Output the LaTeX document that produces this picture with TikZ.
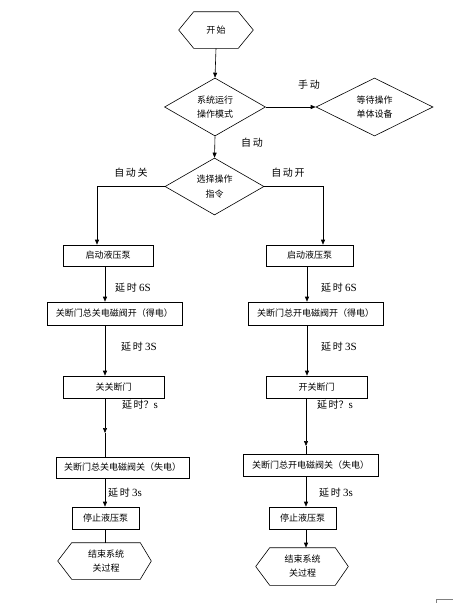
\documentclass[tikz,border=0pt]{standalone}
\usepackage{fontspec}
\setmainfont{Noto Sans CJK SC}
\newfontfamily\lat{Liberation Serif}
\usetikzlibrary{shapes.geometric,arrows.meta,calc}
\begin{document}
\begin{tikzpicture}[x=1pt,y=-1pt,
  line width=0.6pt,
  arr/.style={-{Triangle[length=5pt,width=4pt]}},
  boxnode/.style={draw,rectangle,inner sep=0pt,font=\fontsize{9}{10}\selectfont},
  dia/.style={draw,diamond,aspect=1.75,inner sep=0pt,align=center,font=\fontsize{9}{14.5}\selectfont},
  hexa/.style={rectangle,inner sep=0pt,align=center,minimum height=36pt,font=\fontsize{9}{14}\selectfont},
  lbl/.style={inner sep=0pt,font=\fontsize{10}{12}\selectfont}
]
\useasboundingbox (0,0) rectangle (473,603);

% start
\node[hexa,minimum width=44pt] (start) at (216,30) {开\,始};
\draw (start.north west) -- (start.north east) -- ([xshift=15pt]start.east) -- (start.south east) -- (start.south west) -- ([xshift=-15pt]start.west) -- cycle;

% diamonds
\node[dia,minimum width=101pt,minimum height=58pt] (d1) at (215,107) {系统运行\\操作模式};
\node[dia,minimum width=117pt,minimum height=58pt] (d2) at (374.5,107) {等待操作\\单体设备};
\node[dia,minimum width=99pt,minimum height=57pt] (d3) at (214.5,186.5) {选择操作\\指令};

% left column
\node[boxnode,minimum width=90pt,minimum height=21pt] (lb1) at (108,255.5) {启动液压泵};
\node[boxnode,minimum width=135pt,minimum height=23pt] (lb2) at (114.5,313.5) {关断门总关电磁阀开（得电）};
\node[boxnode,minimum width=101pt,minimum height=22pt] (lb3) at (113.5,387) {关关断门};
\node[boxnode,minimum width=133pt,minimum height=21pt] (lb4) at (122.5,467.5) {关断门总关电磁阀关（失电）};
\node[boxnode,minimum width=67pt,minimum height=22pt] (lb5) at (105.5,518) {停止液压泵};
\node[hexa,minimum width=68pt] (le) at (106,561) {结束系统\\关过程};
\draw (le.north west) -- (le.north east) -- ([xshift=11pt]le.east) -- (le.south east) -- (le.south west) -- ([xshift=-14pt]le.west) -- cycle;

% right column
\node[boxnode,minimum width=87pt,minimum height=21pt] (rb1) at (309.5,255.5) {启动液压泵};
\node[boxnode,minimum width=135pt,minimum height=23pt] (rb2) at (315.5,313.5) {关断门总开电磁阀开（得电）};
\node[boxnode,minimum width=101pt,minimum height=22pt] (rb3) at (316.5,387) {开关断门};
\node[boxnode,minimum width=135pt,minimum height=22pt] (rb4) at (310.5,465) {关断门总开电磁阀关（失电）};
\node[boxnode,minimum width=67pt,minimum height=22pt] (rb5) at (302.5,518) {停止液压泵};
\node[hexa,minimum width=65pt,minimum height=37pt] (re) at (302.5,566.5) {结束系统\\关过程};
\draw (re.north west) -- (re.north east) -- ([xshift=13pt]re.east) -- (re.south east) -- (re.south west) -- ([xshift=-14pt]re.west) -- cycle;

% line x positions
\coordinate (LA) at (97,0);
\coordinate (RA) at (323,0);
\coordinate (L) at (105,0);
\coordinate (R) at (307,0);
\coordinate (m1) at (105,433);
\coordinate (m2) at (306,446);

% connectors
\draw[arr] (start.south) -- (d1.north);
\draw[arr] (d1.east) -- (d2.west);
\draw[arr] (d1.south) -- (d3.north);
\draw[arr] (d3.west) -| (lb1.north -| LA);
\draw[arr] (d3.east) -| (rb1.north -| RA);

\draw[arr] (lb1.south -| L) -- (lb2.north -| L);
\draw[arr] (lb2.south -| L) -- (lb3.north -| L);
\draw[arr] (lb3.south -| L) -- (m1);
\draw (m1) -- (lb4.north -| L);
\draw[arr] (lb4.south -| L) -- (lb5.north -| L);
\draw (lb5.south -| L) -- (le.north -| L);

\draw[arr] (rb1.south -| R) -- (rb2.north -| R);
\draw[arr] (rb2.south -| R) -- (rb3.north -| R);
\draw[arr] (rb3.south -| m2) -- (m2);
\draw (m2) -- (rb4.north -| m2);
\draw[arr] (rb4.south -| m2) -- (rb5.north -| m2);
\draw[arr] (rb5.south -| m2) -- (re.north -| m2);

% labels
\node[lbl] (t1) at (309,85) {手\,动};
\node[lbl] (t2) at (252,143) {自\,动};
\node[lbl] (t3) at (131,173) {自\,动\,关};
\node[lbl] (t4) at (288,173) {自\,动\,开};
\node[lbl] (t5) at (133,288) {延\,时 {\lat\fontsize{11}{12}\selectfont 6S}};
\node[lbl] (t6) at (339,288) {延\,时 {\lat\fontsize{11}{12}\selectfont 6S}};
\node[lbl] (t7) at (139,347) {延\,时 {\lat\fontsize{11}{12}\selectfont 3S}};
\node[lbl] (t8) at (339,347) {延\,时 {\lat\fontsize{11}{12}\selectfont 3S}};
\node[lbl] (t9) at (140,405) {延\,时？{\lat\fontsize{11}{12}\selectfont s}};
\node[lbl] (t10) at (335,405) {延\,时？{\lat\fontsize{11}{12}\selectfont s}};
\node[lbl] (t11) at (125,493) {延\,时 {\lat\fontsize{11}{12}\selectfont 3s}};
\node[lbl] (t12) at (336,493) {延\,时 {\lat\fontsize{11}{12}\selectfont 3s}};

% page corner mark
\draw[gray,line width=0.5pt] (436,603) -- (436,599) -- (453,599);
\end{tikzpicture}
\end{document}
